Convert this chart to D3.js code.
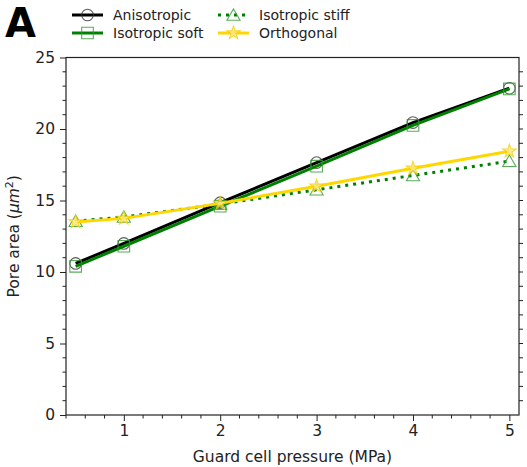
<!DOCTYPE html>
<html><head><meta charset="utf-8">
<script src="https://cdn.jsdelivr.net/npm/d3@7/dist/d3.min.js"></script>
<style>body{margin:0;background:#fff}svg{display:block;font-family:"DejaVu Sans",sans-serif}</style>
</head><body>
<svg id="c" width="527" height="467"></svg>
<script>
const pressure = [0.5, 1, 2, 3, 4, 5];
const anisotropic = [10.6, 12.0, 14.85, 17.65, 20.45, 22.85];
const isotropicSoft = [10.4, 11.8, 14.6, 17.4, 20.25, 22.8];
const isotropicStiff = [13.55, 13.85, 14.75, 15.75, 16.75, 17.75];
const orthogonal = [13.5, 13.75, 14.8, 16.0, 17.25, 18.45];
const seriesNames = ["Anisotropic", "Isotropic soft", "Isotropic stiff", "Orthogonal"];
const xTicks = [1, 2, 3, 4, 5];
const yTicks = [0, 5, 10, 15, 20, 25];

const svg = d3.select("#c");
const L = 66, R = 519, T = 57.5, B = 415;
const x = d3.scaleLinear().domain([0.4, 5.1]).range([L, R]);
const y = d3.scaleLinear().domain([0, 25]).range([B, T]);
const axisColor = "#222";

const series = [
  {name: seriesNames[0], vals: anisotropic, color: "#000", dash: null, marker: "circle", mstroke: "#333", mfill: "none"},
  {name: seriesNames[1], vals: isotropicSoft, color: "#008000", dash: null, marker: "square", mstroke: "#2e9a2e", mfill: "none"},
  {name: seriesNames[2], vals: isotropicStiff, color: "#008000", dash: "3,5", marker: "triangle", mstroke: "#2e9a2e", mfill: "none"},
  {name: seriesNames[3], vals: orthogonal, color: "#FFD700", dash: null, marker: "star", mstroke: "#f5d000", mfill: "#ffe98a"}
];
const symMap = {circle: d3.symbolCircle, square: d3.symbolSquare, triangle: d3.symbolTriangle, star: d3.symbolStar};
const sizeMap = {circle: 105, square: 135, triangle: 75, star: 55};

function drawMarker(g, s, cx, cy) {
  g.append("path")
    .attr("d", d3.symbol().type(symMap[s.marker]).size(sizeMap[s.marker])())
    .attr("transform", `translate(${cx},${cy + (s.marker === "triangle" ? 1.5 : 0)})`)
    .attr("fill", s.mfill).attr("stroke", s.mstroke).attr("stroke-width", 1.1)
    .attr("opacity", 0.8);
}

// series
const line = d3.line().x(d => x(d[0])).y(d => y(d[1]));
series.forEach(s => {
  const g = svg.append("g");
  const pts = pressure.map((p, i) => [p, s.vals[i]]);
  g.append("path").attr("d", line(pts)).attr("fill", "none")
    .attr("stroke", s.color).attr("stroke-width", 3)
    .attr("stroke-dasharray", s.dash);
  pts.forEach(p => drawMarker(g, s, x(p[0]), y(p[1])));
});

// axes
const bottom = d3.axisBottom(x).tickValues(xTicks).tickFormat(d3.format("d")).tickSize(6).tickPadding(4);
const gb = svg.append("g").attr("transform", `translate(0,${B})`).call(bottom);
const left = d3.axisLeft(y).tickValues(yTicks).tickSize(6).tickPadding(5);
const gl = svg.append("g").attr("transform", `translate(${L},0)`).call(left);
[gb, gl].forEach(g => {
  g.select(".domain").remove();
  g.selectAll("line").attr("stroke", axisColor).attr("stroke-width", 1);
  g.selectAll("text").attr("font-size", "15.5px").attr("font-family", "DejaVu Sans").attr("fill", "#222");
});
// minor ticks
const xMinor = d3.range(0.4, 5.01, 0.2).filter(v => Math.abs(v - Math.round(v)) > 1e-6);
svg.append("g").selectAll("line").data(xMinor).join("line")
  .attr("x1", d => x(d)).attr("x2", d => x(d)).attr("y1", B).attr("y2", B + 3.5)
  .attr("stroke", axisColor);
const yMinor = d3.range(0, 26, 1).filter(v => v % 5 !== 0);
svg.append("g").selectAll("line").data(yMinor).join("line")
  .attr("x1", L - 3.5).attr("x2", L).attr("y1", d => y(d)).attr("y2", d => y(d))
  .attr("stroke", axisColor);
// right ticks
svg.append("g").selectAll("line").data(d3.range(1, 25, 1)).join("line")
  .attr("x1", R).attr("x2", R + 4).attr("y1", d => y(d)).attr("y2", d => y(d))
  .attr("stroke", axisColor);
// frame
svg.append("rect").attr("x", L).attr("y", T).attr("width", R - L).attr("height", B - T)
  .attr("fill", "none").attr("stroke", axisColor).attr("stroke-width", 1.2);

// axis labels
svg.append("text").attr("x", (L + R) / 2).attr("y", 462).attr("text-anchor", "middle")
  .attr("font-size", "15.5px").attr("fill", "#222").text("Guard cell pressure (MPa)");
const yl = svg.append("text").attr("transform", `translate(19,${(T + B) / 2}) rotate(-90)`)
  .attr("text-anchor", "middle").attr("font-size", "15.5px").attr("fill", "#222");
yl.append("tspan").text("Pore area (");
yl.append("tspan").attr("font-style", "italic").text("μm");
yl.append("tspan").attr("font-size", "11px").attr("dy", "-6").text("2");
yl.append("tspan").attr("dy", "6").text(")");

// panel letter
svg.append("text").attr("x", 5).attr("y", 37).attr("font-size", "40px").attr("font-weight", "bold")
  .attr("fill", "#000").text("A");

// legend
const legPos = [[72, 15], [72, 33], [218, 15], [218, 33]];
series.forEach((s, i) => {
  const [lx, ly] = legPos[i];
  const g = svg.append("g");
  g.append("line").attr("x1", lx).attr("x2", lx + 31).attr("y1", ly).attr("y2", ly)
    .attr("stroke", s.color).attr("stroke-width", 3).attr("stroke-dasharray", s.dash);
  drawMarker(g, s, lx + 15.5, ly);
  g.append("text").attr("x", lx + 41).attr("y", ly + 5).attr("font-size", "14px")
    .attr("fill", "#222").text(s.name);
});
</script>
</body></html>
